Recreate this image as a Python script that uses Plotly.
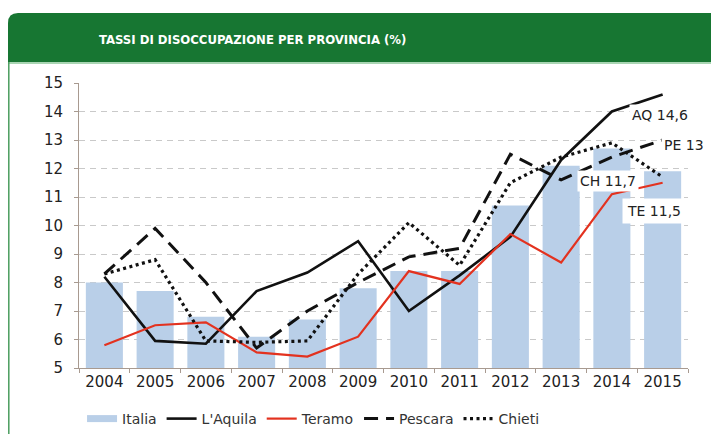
import plotly.graph_objects as go

years = ["2004", "2005", "2006", "2007", "2008", "2009", "2010", "2011", "2012", "2013", "2014", "2015"]
italia = [8.0, 7.7, 6.8, 6.1, 6.7, 7.8, 8.4, 8.4, 10.7, 12.1, 12.7, 11.9]
laquila = [8.2, 5.95, 5.85, 7.7, 8.35, 9.45, 7.0, 8.25, 9.6, 12.3, 14.0, 14.6]
teramo = [5.8, 6.5, 6.6, 5.55, 5.4, 6.1, 8.4, 7.95, 9.7, 8.7, 11.1, 11.5]
pescara = [8.3, 9.9, 8.0, 5.7, 7.0, 8.0, 8.9, 9.2, 12.5, 11.6, 12.4, 13.0]
chieti = [8.3, 8.8, 5.95, 5.9, 5.95, 8.3, 10.1, 8.6, 11.5, 12.4, 12.9, 11.7]
y_ticks = [5, 6, 7, 8, 9, 10, 11, 12, 13, 14, 15]

FONT = "DejaVu Sans"
BAR_C = "#b9cfe8"
GREEN = "#177632"

# the page body has an 8px margin; the figure is sized so the plot lands where the original is
OFF = 8
PL, PR, PT, PB = 79, 688, 83, 368  # plot area in window pixels
PW, PH = PR - PL, PB - PT


def px(x):
    return (x - PL) / PW


def py(y):
    return (PB - y) / PH


fig = go.Figure()
fig.add_trace(go.Bar(x=years, y=italia, name="Italia", marker=dict(color=BAR_C, line=dict(width=0)),
                     showlegend=False, width=0.73))
# legend-only swatch for the bar series (drawn as a wide band like the original)
fig.add_trace(go.Scatter(x=[None], y=[None], mode="lines", name="Italia",
                         line=dict(color=BAR_C, width=7)))
fig.add_trace(go.Scatter(x=years, y=laquila, mode="lines", name="L'Aquila",
                         line=dict(color="#111111", width=2.6)))
fig.add_trace(go.Scatter(x=years, y=teramo, mode="lines", name="Teramo",
                         line=dict(color="#e3321f", width=2.2)))
fig.add_trace(go.Scatter(x=years, y=pescara, mode="lines", name="Pescara",
                         line=dict(color="#111111", width=3, dash="14px,8px")))
fig.add_trace(go.Scatter(x=years, y=chieti, mode="lines", name="Chieti",
                         line=dict(color="#111111", width=3.2, dash="3px,3.5px")))

# header band
W0, W1 = px(8), px(719)
YT, YB = py(13), py(62)
rx, ry = 10 / PW, 10 / PH
path = (f"M {W0},{YB} L {W0},{YT - ry} Q {W0},{YT} {W0 + rx},{YT} "
        f"L {W1},{YT} L {W1},{YB} Z")
shapes = [
    dict(type="path", xref="paper", yref="paper", path=path, fillcolor=GREEN, line=dict(width=0), layer="above"),
    dict(type="line", xref="paper", yref="paper", x0=W0, x1=W1, y0=py(63), y1=py(63),
         line=dict(color="#8cc79a", width=1.5)),
    dict(type="line", xref="paper", yref="paper", x0=px(8.8), x1=px(8.8),
         y0=py(62), y1=py(445), line=dict(color="#4a9d5e", width=1.5)),
]

annotations = [
    dict(xref="paper", yref="paper", x=px(97), y=py(40), xanchor="left", yanchor="middle",
         text="<b>TASSI DI DISOCCUPAZIONE PER PROVINCIA (%)</b>", showarrow=False,
         font=dict(family="Liberation Sans Narrow, DejaVu Sans Condensed, Roboto", size=13, color="white")),
]
labels = [("AQ 14,6", 10.33, 13.88, 2), ("PE 13", 10.96, 12.82, 2),
          ("CH 11,7", 9.31, 11.57, 2), ("TE 11,5", 10.2, 10.5, 4)]
for t, xi, yv, bp in labels:
    annotations.append(dict(x=xi, y=yv, xref="x", yref="y", text=t, showarrow=False, xanchor="left",
                            yanchor="middle", bgcolor="white", borderpad=bp,
                            font=dict(family=FONT, size=14, color="#222222")))

fig.update_layout(
    width=719 - OFF, height=434 - OFF,
    margin=dict(l=PL - OFF, r=719 - PR, t=PT - OFF, b=434 - PB, autoexpand=False),
    paper_bgcolor="white", plot_bgcolor="white",
    font=dict(family=FONT, color="#222222"),
    shapes=shapes, annotations=annotations,
    bargap=0.27,
    showlegend=True,
    legend=dict(orientation="h", x=0.005, xanchor="left", y=py(403), yanchor="top",
                font=dict(family=FONT, size=14, color="#333333"), itemwidth=30,
                tracegroupgap=0, bgcolor="rgba(0,0,0,0)"),
    xaxis=dict(type="category", range=[-0.5, 11.5], showgrid=False, showline=True, linecolor="#a89a90",
               linewidth=1, ticks="outside", tickson="boundaries", ticklen=4, tickcolor="#a89a90",
               tickfont=dict(family=FONT, size=15, color="#222222")),
    yaxis=dict(range=[5, 15], tickvals=y_ticks, showgrid=True, gridcolor="#c9c9c9", griddash="6px,5px",
               gridwidth=1, showline=True, linecolor="#a89a90", linewidth=1, ticks="outside", ticklen=4,
               tickcolor="#a89a90", ticklabelstandoff=8, zeroline=False,
               tickfont=dict(family=FONT, size=15, color="#222222")),
)

fig.write_html("out.html")
